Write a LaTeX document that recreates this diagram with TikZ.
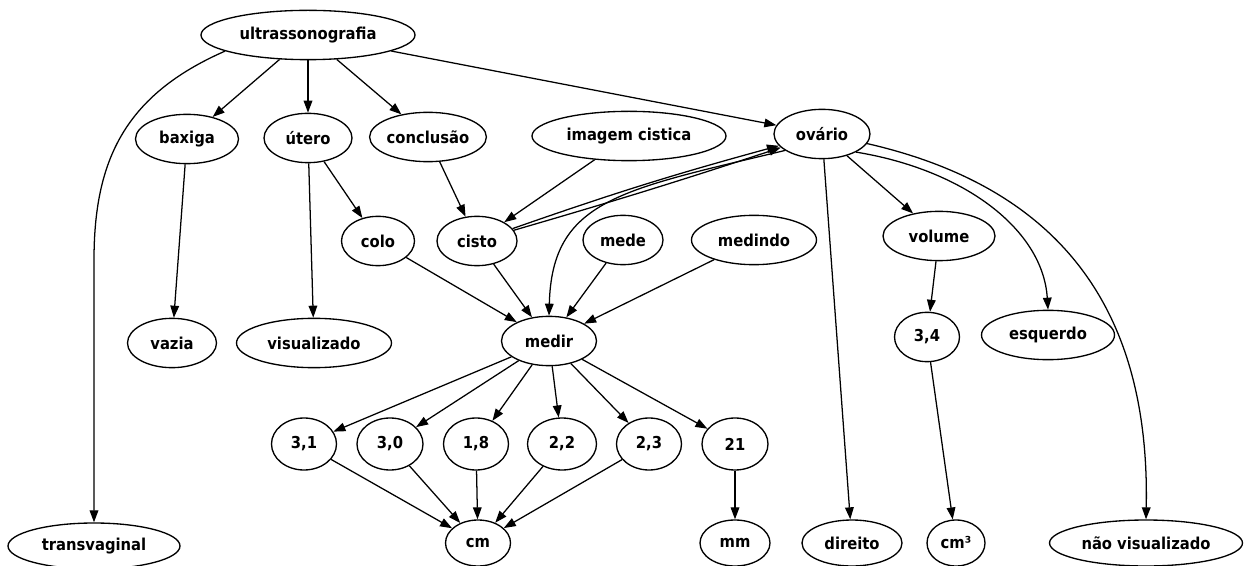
\documentclass[tikz,border=0pt]{standalone}
\usepackage{fontspec}
\setmainfont{DejaVu Sans Condensed}
\usetikzlibrary{shapes.geometric,arrows.meta}

\begin{document}
\begin{tikzpicture}[x=0.75pt,y=-0.75pt,
  term/.style={ellipse,draw,line width=1pt,inner sep=0pt,
    minimum height=37pt,font=\fontsize{12.3}{14}\selectfont\bfseries},
  wd/.style={minimum width=#1*0.75pt},
  ht/.style={minimum height=#1*0.75pt},
  edge/.style={draw,line width=0.95pt,
    -{Triangle[length=9pt,width=6.5pt]}}]
\useasboundingbox (0,0) rectangle (1244,566);

% top level
\node[term,wd=214] (ultra) at (308,35) {ultrassonografia};

% second row
\node[term,wd=103] (baxiga) at (187,139) {baxiga};
\node[term,wd=88] (utero) at (308,138) {útero};
\node[term,wd=108] (conclusao) at (428,137) {conclusão};
\node[term,wd=194] (imagem) at (629,136) {imagem cistica};
\node[term,wd=96] (ovario) at (822,134) {ovário};

% third row
\node[term,wd=73] (colo) at (378,241) {colo};
\node[term,wd=80] (cisto) at (477,241) {cisto};
\node[term,wd=80] (mede) at (623,240) {mede};
\node[term,wd=125] (medindo) at (754,240) {medindo};
\node[term,wd=112] (volume) at (939,236) {volume};

% fourth row
\node[term,wd=89] (vazia) at (172,343) {vazia};
\node[term,wd=155] (visualizado) at (314,343) {visualizado};
\node[term,wd=95] (medir) at (549,341) {medir};
\node[term,wd=65] (v34) at (927,337) {3,4};
\node[term,wd=133] (esquerdo) at (1048,335) {esquerdo};

% measured values
\node[term,wd=65,ht=52] (v31) at (304,444) {3,1};
\node[term,wd=66,ht=52] (v30) at (390,444) {3,0};
\node[term,wd=65,ht=52] (v18) at (476,444) {1,8};
\node[term,wd=69,ht=52] (v22) at (562,444) {2,2};
\node[term,wd=65,ht=52] (v23) at (649,444) {2,3};
\node[term,wd=66,ht=52] (v21) at (735,444) {21};

% bottom row
\node[term,wd=172,ht=46] (transvaginal) at (94,546) {transvaginal};
\node[term,wd=65,ht=46] (cm) at (478,543) {cm};
\node[term,wd=70,ht=46] (mm) at (735,543) {mm};
\node[term,wd=100,ht=46] (direito) at (852,543) {direito};
\node[term,wd=58,ht=46] (cm3) at (956,543) {cm³};
\node[term,wd=193,ht=46] (naovis) at (1146,543) {não visualizado};

% edges from the root
\path[edge] (ultra) -- (baxiga);
\path[edge] (ultra) -- (utero);
\path[edge] (ultra) -- (conclusao);
\path[edge] (ultra) -- (ovario);
\path[edge] (ultra.191) .. controls (125,95) and (94,160) .. (94,260) -- (transvaginal.north);

% second level
\path[edge] (baxiga) -- (vazia);
\path[edge] (utero) -- (visualizado);
\path[edge] (utero) -- (colo);
\path[edge] (conclusao) -- (cisto);
\path[edge] (imagem) -- (cisto);
\path[edge] (cisto) to[bend left=2] (ovario);
\path[edge] (cisto) to[bend right=1] (ovario);

% ovário branches
\path[edge] (ovario.204) .. controls (620,190) and (552,200) .. (medir.north);
\path[edge] (ovario) -- (volume);
\path[edge] (ovario) -- (direito);
\path[edge] (ovario.-28) .. controls (965,170) and (1043,230) .. (esquerdo.north);
\path[edge] (ovario.-12) .. controls (1070,190) and (1150,320) .. (naovis.north);
\path[edge] (volume) -- (v34);
\path[edge] (v34) -- (cm3);

% into medir
\path[edge] (colo) -- (medir);
\path[edge] (cisto) -- (medir);
\path[edge] (mede) -- (medir);
\path[edge] (medindo) -- (medir);

% out of medir
\foreach \v in {v31,v30,v18,v22,v23,v21}
  \path[edge] (medir) -- (\v);
\foreach \v in {v31,v30,v18,v22,v23}
  \path[edge] (\v) -- (cm);
\path[edge] (v21) -- (mm);
\end{tikzpicture}
\end{document}
